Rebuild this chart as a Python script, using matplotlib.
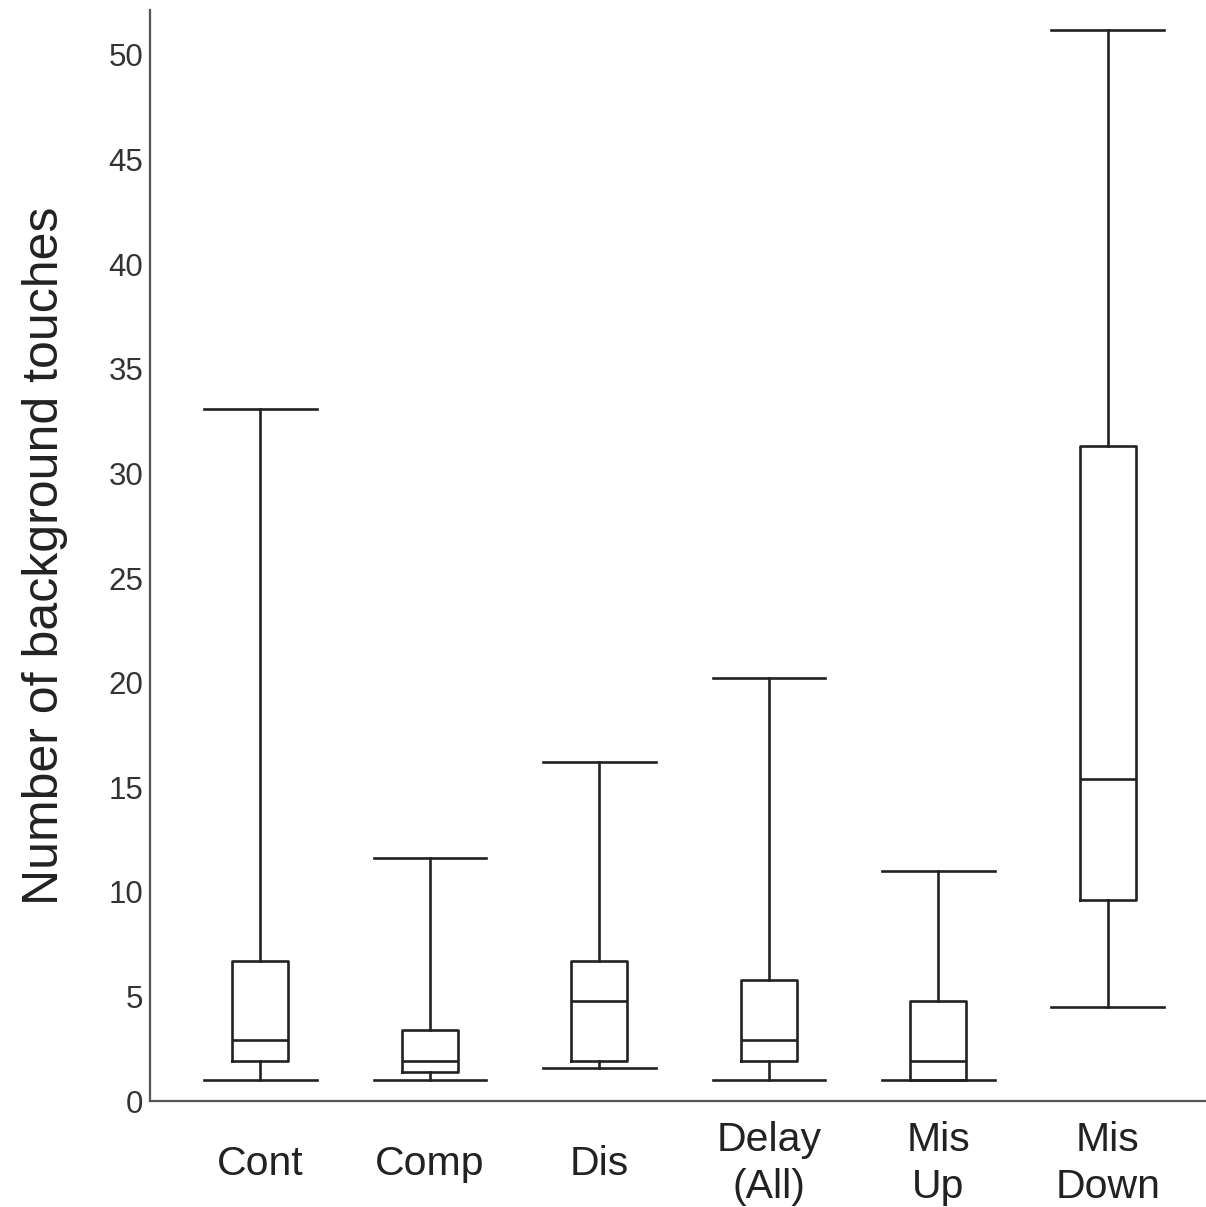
import matplotlib.pyplot as plt

plt.rcParams["font.family"] = ["Liberation Sans", "DejaVu Sans"]

# box summaries
labels = ["Cont", "Comp", "Dis", "Delay\n(All)", "Mis\nUp", "Mis\nDown"]
whis_lo = [1.0, 1.0, 1.6, 1.0, 1.0, 4.5]
q1 = [1.9, 1.4, 1.9, 1.9, 1.0, 9.6]
median = [2.9, 1.9, 4.8, 2.9, 1.9, 15.4]
q3 = [6.7, 3.4, 6.7, 5.8, 4.8, 31.3]
whis_hi = [33.1, 11.6, 16.2, 20.2, 11.0, 51.2]
y_ticks = [0, 5, 10, 15, 20, 25, 30, 35, 40, 45, 50]

stats = []
for i in range(len(labels)):
    stats.append({
        "whislo": whis_lo[i], "q1": q1[i], "med": median[i],
        "q3": q3[i], "whishi": whis_hi[i], "fliers": [],
    })

fig = plt.figure(figsize=(12.06, 12.07), dpi=100)
ax = fig.add_axes([0.1244, 0.0878, 0.8756, 0.9039])

line = dict(color="#222222", linewidth=1.9)
positions = list(range(1, len(labels) + 1))
ax.bxp(stats, positions=positions, widths=0.332, showfliers=False,
       boxprops=line, whiskerprops=line, capprops=line, medianprops=line,
       capwidths=0.664)

ax.set_xlim(0.349, 6.58)
ax.set_ylim(0, 52.15)
ax.set_yticks(y_ticks)
ax.set_xticks(positions)
ax.set_xticklabels(labels, fontsize=29.5, color="#222222", linespacing=1.33)
for t in ax.get_xticklabels():
    t.set_verticalalignment("center")
ax.tick_params(axis="x", length=0, pad=45)
ax.tick_params(axis="y", length=0, pad=5, labelsize=22.5, labelcolor="#333333")

ax.set_ylabel("Number of background touches", fontsize=36, color="#222222", labelpad=29)

for side in ["top", "right"]:
    ax.spines[side].set_visible(False)
for side in ["left", "bottom"]:
    ax.spines[side].set_color("#555555")
    ax.spines[side].set_linewidth(1.6)

fig.savefig("out.png", dpi=100)
